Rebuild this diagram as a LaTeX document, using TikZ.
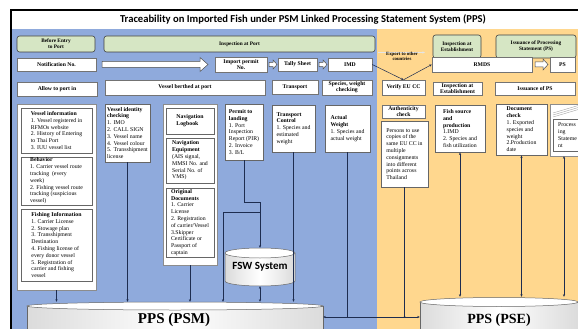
\documentclass[tikz,border=0pt]{standalone}
\usepackage{fontspec}
\setmainfont{Liberation Serif}
\newfontfamily\carl{Carlito}
\usetikzlibrary{arrows.meta,calc}
\definecolor{bluebg}{RGB}{143,170,220}
\definecolor{orgbg}{RGB}{255,215,142}
\definecolor{hgreen}{RGB}{214,230,196}
\definecolor{lnc}{RGB}{30,45,80}
\newcommand{\BXcalc}[4]{\pgfmathsetmacro{\bxcx}{(#1+#3)/2}\pgfmathsetmacro{\bxcy}{(#2+#4)/2}\pgfmathsetmacro{\bxw}{#3-#1}\pgfmathsetmacro{\bxh}{#4-#2}}
\newcommand{\WB}[6]{\BXcalc{#2}{#3}{#4}{#5}\node[wbox, minimum width=\bxw pt, minimum height=\bxh pt] (#1) at (\bxcx,\bxcy) {#6};}
\newcommand{\HB}[6]{\BXcalc{#2}{#3}{#4}{#5}\node[hdr, minimum width=\bxw pt, minimum height=\bxh pt] (#1) at (\bxcx,\bxcy) {#6};}
\newcommand{\DB}[6]{\BXcalc{#2}{#3}{#4}{#5}\node[dbox, minimum width=\bxw pt, minimum height=\bxh pt] (#1) at (\bxcx,\bxcy) {#6};}
\newcommand{\CB}[5]{\BXcalc{#2}{#3}{#4}{#5}\node[cbox, minimum width=\bxw pt, minimum height=\bxh pt] (#1) at (\bxcx,\bxcy) {};}
\newcommand{\HArr}[6]{\draw[harr] (#1,#3-#4) -- (#2-#6,#3-#4) -- (#2-#6,#3-#5) -- (#2,#3) -- (#2-#6,#3+#5) -- (#2-#6,#3+#4) -- (#1,#3+#4) -- cycle;}
\begin{document}
\begin{tikzpicture}[x=1pt,y=-1pt,
  hdr/.style={draw=black!75, fill=hgreen, rounded corners=2.5pt, line width=0.6pt, inner sep=1pt, align=center, font=\fontsize{5.3}{6}\selectfont\bfseries},
  wbox/.style={draw=black!55, fill=white, line width=0.4pt, inner sep=1pt, align=center, font=\fontsize{5.7}{6.2}\selectfont\bfseries},
  dbox/.style={draw=black!60, fill=white, line width=0.8pt, inner xsep=1.5pt, inner ysep=1pt, align=left, font=\fontsize{5.8}{6.8}\selectfont},
  cbox/.style={draw=black!45, fill=white, line width=0.4pt, inner sep=0pt},
  conn/.style={draw=lnc, line width=0.5pt},
  tip/.style={-{Stealth[length=2.6pt,width=2.2pt]}},
  btip/.style={{Stealth[length=2.6pt,width=2.2pt]}-{Stealth[length=2.6pt,width=2.2pt]}},
  harr/.style={draw=black!70, fill=white, line width=0.5pt, line join=miter},
  cyl/.style={draw=black!60, line width=0.5pt, left color=black!14, right color=black!14, middle color=white}]
\useasboundingbox (0,0) rectangle (578,329);
\clip (0,0) rectangle (578,329);
\fill[white] (0,0) rectangle (578,329);
\fill[bluebg] (12,29) rectangle (377,340);
\fill[orgbg] (377,29) rectangle (590,340);
\draw[black, line width=1.4pt] (11,340) -- (11,10) -- (590,10);
\node[font=\carl\bfseries\fontsize{10.6}{12}\selectfont] (title) at (303,19.5) {Traceability on Imported Fish under PSM Linked Processing Statement System (PPS)};
% headers
\HB{hbefore}{17}{36}{95}{52}{Before Entry\\to Port}
\HB{hinsp}{104}{36}{375}{52}{Inspection at Port}
\HB{hest}{433}{35}{481}{58}{Inspection at\\Establishment}
\HB{hiss}{496}{35}{576}{58}{Issuance of Processing\\Statement (PS)}
% row 2
\WB{notif}{17}{58}{96}{71}{Notification No.}
\HArr{102}{208}{64.5}{3}{7}{8}
\WB{permit}{215}{57}{267}{72}{Import permit\\No.}
\HArr{269}{277}{64.5}{2.2}{4.5}{4}
\WB{tally}{278}{58}{317}{71}{Tally Sheet}
\HArr{319}{327}{64.5}{2.2}{4.5}{4}
\WB{imd}{328}{58}{372}{71}{IMD}
\draw[white!80!gray, line width=0.7pt, tip] (378,52.5) -- (425,52.5);
\node[font=\fontsize{4.8}{5.6}\selectfont\bfseries, align=center] (export) at (402,56.5) {Export to other\\countries};
\WB{rmds}{432}{57}{532}{72}{RMDS}
\HArr{535}{548}{64.5}{2.5}{5.5}{5}
\WB{ps}{550}{57}{575}{72}{PS}
% row 3
\WB{allow}{17}{82}{97}{96}{Allow to port in}
\WB{berthed}{105}{80}{265}{95}{Vessel berthed at port}
\WB{transport}{272}{80}{318}{94}{Transport}
\WB{species}{322}{80}{372}{95}{Species, weight\\checking}
\WB{verify}{382}{80}{425}{95}{Verify EU CC}
\WB{inspest}{433}{82}{482}{95}{Inspection at\\Establishment}
\WB{isspsb}{495}{82}{575}{95}{Issuance of PS}
% export connectors
\draw[conn, tip] (imd.east) -- (verify.north);
\draw[conn, tip] (verify.north) -- (rmds.west);
% left column
\CB{leftcol}{17}{104}{96}{290}
\DB{vinfo}{21}{108}{92}{153}{\textbf{Vessel information}\\1. Vessel registered in\\RFMOs website\\2. History of Entering\\to Thai Port\\3. IUU vessel list}
\DB{behav}{21}{157}{92}{205}{\textbf{Behavior}\\1. Carrier vessel route\\tracking \ (every\\week)\\2. Fishing vessel route\\tracking (suspicious\\vessel)}
\DB{fishinfo}{21}{209}{92}{281}{\textbf{Fishing Information}\\1. Carrier License\\2. Stowage plan\\3. Transshipment\\Destination\\4. Fishing license of\\every donor vessel\\5. Registration of\\carrier and fishing\\vessel}
% vessel identity
\DB{vid}{105}{104}{150}{162}{\textbf{Vessel identity}\\\textbf{checking}\\1. IMO\\2. CALL SIGN\\3. Vessel name\\4. Vessel colour\\5. Transshipment\\license}
% middle column
\CB{midcol}{163}{104}{217}{265}
\DB{navlog}{166}{108}{214}{134}{\textbf{Navigation}\\\textbf{Logbook}}
\DB{naveq}{166}{138}{214}{183}{\textbf{Navigation}\\\textbf{Equipment}\\(AIS signal,\\MMSI No. and\\Serial No. of\\VMS)}
\DB{origdoc}{166}{188}{214}{257}{\textbf{Original}\\\textbf{Documents}\\1. Carrier\\License\\2. Registration\\of carrier/Vessel\\3.Skipper\\Certificate or\\Passport of\\captain}
% permit to landing etc
\DB{permitland}{225}{104}{263}{160}{\textbf{Permit to}\\\textbf{landing}\\1. Port\\Inspection\\Report (PIR)\\2. Invoice\\3. B/L}
\DB{tctrl}{272}{105}{315}{152}{\textbf{Transport}\\\textbf{Control}\\1. Species and\\estimated\\weight}
\DB{aweight}{325}{105}{370}{152}{\textbf{Actual}\\\textbf{Weight}\\1. Species and\\actual weight}
% orange details
\WB{auth}{382}{105}{425}{118}{Authenticity\\check}
\DB{persons}{381}{121}{428}{187}{Persons to use\\copies of the\\same EU CC in\\multiple\\consignments\\into different\\points across\\Thailand}
\DB{fishsrc}{435}{105}{485}{152}{\textbf{Fish source}\\\textbf{and}\\\textbf{production}\\1.IMD\\2. Species and\\fish utilization}
\DB{doccheck}{496}{104}{547}{155}{\textbf{Document}\\\textbf{check}\\1. Exported\\species and\\weight\\2.Production\\date}
\CB{procouter}{550}{104}{578}{156}
\draw[black!35, line width=0.4pt] (553,117) -- (580,109) (553,115) -- (580,107) (553,113) -- (580,105);
\DB{procstmt}{553}{119}{582}{151}{Process\\ing\\Stateme\\nt}
% FSW cylinder
\path[cyl] (225,253) -- (225,281) arc[start angle=180, end angle=0, x radius=35, y radius=5] -- (295,253) -- cycle;
\draw[draw=black!60, fill=white, line width=0.5pt] (260,253) ellipse [x radius=35, y radius=5];
\node[font=\carl\bfseries\fontsize{11}{13}\selectfont, minimum width=70pt, minimum height=38pt, inner sep=0pt] (fsw) at (260,267) {FSW System};
% PSM cylinder
\path[cyl] (27,306) -- (27,345) -- (323,345) -- (323,306) -- cycle;
\draw[draw=black!60, fill=white, line width=0.5pt] (175,306) ellipse [x radius=148, y radius=4];
\node[minimum width=296pt, minimum height=30pt, inner sep=0pt] (psm) at (175,317) {};
\node[font=\bfseries\fontsize{15}{17}\selectfont] (psmtext) at (174,320) {PPS (PSM)};
% PSE cylinder
\path[cyl] (420,302) -- (420,345) -- (578,345) -- (578,302) -- cycle;
\draw[draw=black!60, fill=white, line width=0.5pt] (499,302) ellipse [x radius=79, y radius=4.5];
\node[minimum width=158pt, minimum height=40pt, inner sep=0pt] (pse) at (499,317) {};
\node[font=\bfseries\fontsize{14}{16}\selectfont] (psetext) at (499,320) {PPS (PSE)};
% connectors to PSM
\draw[conn, tip] (leftcol.south) -- (leftcol.south |- psm.north);
\draw[conn, tip] (vid.south) -- (vid.south |- psm.north);
\draw[conn, tip] (midcol.south) -- (midcol.south |- psm.north);
\path (permitland.south) ++(0,42) coordinate (bendA);
\draw[conn, tip] (permitland.south) -- (bendA) -| (fsw.north);
\coordinate (bendB) at (260,212);
\coordinate (bendC) at (223,212);
\draw[conn, tip] (bendB) -- (bendC) -- (bendC |- psm.north);
\draw[conn, btip] (fsw.south) -- (fsw.south |- psm.north);
\draw[conn, tip] (tctrl.south) -- (tctrl.south |- psm.north);
\draw[conn, btip] (psm.east) -- (pse.west);
\draw[conn] (aweight.south) -- (aweight.south |- psm.east);
\draw[conn] (persons.south) -- (persons.south |- pse.west);
\fill[lnc] (persons.south |- pse.west) circle (1pt);
% connectors to PSE
\draw[conn, btip] (fishsrc.south) -- (fishsrc.south |- pse.north);
\draw[conn, btip] (doccheck.south) -- (doccheck.south |- pse.north);
\draw[conn, btip] (procouter.south) -- (procouter.south |- pse.north);
\end{tikzpicture}
\end{document}
